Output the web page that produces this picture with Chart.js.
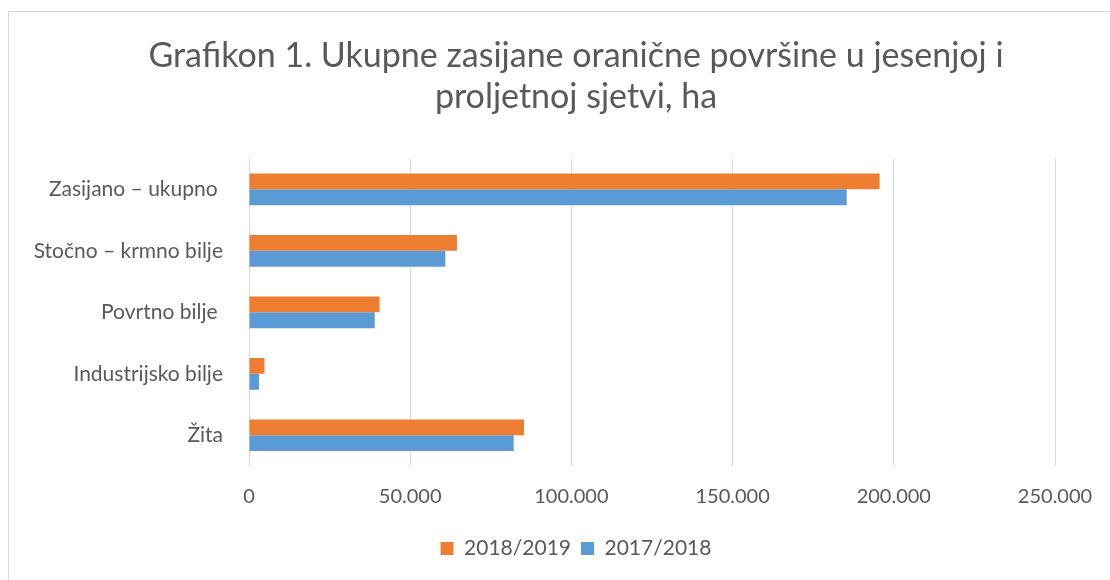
<!DOCTYPE html>
<html>
<head>
<meta charset="utf-8">
<script src="https://cdn.jsdelivr.net/npm/chart.js@4.4.1/dist/chart.umd.min.js"></script>
<style>
  html, body { margin: 0; padding: 0; background: #fff; }
  #wrap { position: relative; width: 1110px; height: 580px; overflow: hidden; }
  #frame {
    position: absolute; left: 8px; top: 11px; width: 1200px; height: 700px;
    border-left: 1px solid #d9d9d9; border-top: 1px solid #d9d9d9;
  }
  canvas { position: absolute; left: 0; top: 0; }
</style>
</head>
<body>
<div id="wrap">
  <div id="frame"></div>
  <!-- the original chart runs past the right edge of the picture -->
  <canvas id="chart" width="1144" height="580"></canvas>
</div>
<script>
// ── data ──
const categories = ["Zasijano – ukupno ", "Stočno – krmno bilje", "Povrtno bilje ", "Industrijsko bilje", "Žita"];
const series2018_2019 = [195600, 64500, 40500, 4800, 85300];
const series2017_2018 = [185400, 60900, 39000, 3100, 82100];
const xTicks = [0, 50000, 100000, 150000, 200000, 250000];

const TEXT = "#595959";
const FONT = "Lato, 'Open Sans', sans-serif";

Chart.defaults.font.family = FONT;
Chart.defaults.color = TEXT;

// 50000 -> "50.000"
function fmt(v) {
  return v === 0 ? "0" : String(v).replace(/\B(?=(\d{3})+(?!\d))/g, ".");
}

new Chart(document.getElementById("chart"), {
  type: "bar",
  data: {
    labels: categories,
    datasets: [
      {
        label: "2018/2019",
        data: series2018_2019,
        backgroundColor: "#ED7D31",
        categoryPercentage: 0.516,
        barPercentage: 1.0,
      },
      {
        label: "2017/2018",
        data: series2017_2018,
        backgroundColor: "#5B9BD5",
        categoryPercentage: 0.516,
        barPercentage: 1.0,
      },
    ],
  },
  options: {
    indexAxis: "y",
    responsive: false,
    animation: false,
    devicePixelRatio: 1,
    layout: { padding: { left: 8, right: 0, top: 0, bottom: 11 } },
    plugins: {
      title: {
        display: true,
        text: ["Grafikon 1. Ukupne zasijane oranične površine u jesenjoj i", "proljetnoj sjetvi, ha"],
        font: { size: 34, weight: "normal" },
        color: TEXT,
        lineHeight: 1.12,
        padding: { top: 36, bottom: 41 },
      },
      legend: {
        position: "bottom",
        labels: {
          boxWidth: 13,
          boxHeight: 13,
          padding: 10,
          font: { size: 21 },
          color: TEXT,
        },
      },
      tooltip: { enabled: false },
    },
    scales: {
      x: {
        min: 0,
        max: 250000,
        afterBuildTicks: (axis) => { axis.ticks = xTicks.map((v) => ({ value: v })); },
        afterFit: (axis) => { axis.height = 62; },
        ticks: {
          callback: (v) => fmt(v),
          font: { size: 20 },
          color: TEXT,
          padding: 19,
        },
        grid: { color: "#d9d9d9", lineWidth: 1, drawTicks: false },
        border: { display: false },
      },
      y: {
        afterFit: (axis) => { axis.width = 241; },
        ticks: { font: { size: 21 }, color: TEXT, padding: 18 },
        grid: { display: false },
        border: { display: false },
      },
      // empty right-hand spacer so the plot ends at 250.000 like the original
      spacer: {
        type: "linear",
        axis: "y",
        position: "right",
        afterFit: (axis) => { axis.width = 89; },
        ticks: { display: false },
        grid: { display: false },
        border: { display: false },
      },
    },
  },
});
</script>
</body>
</html>
